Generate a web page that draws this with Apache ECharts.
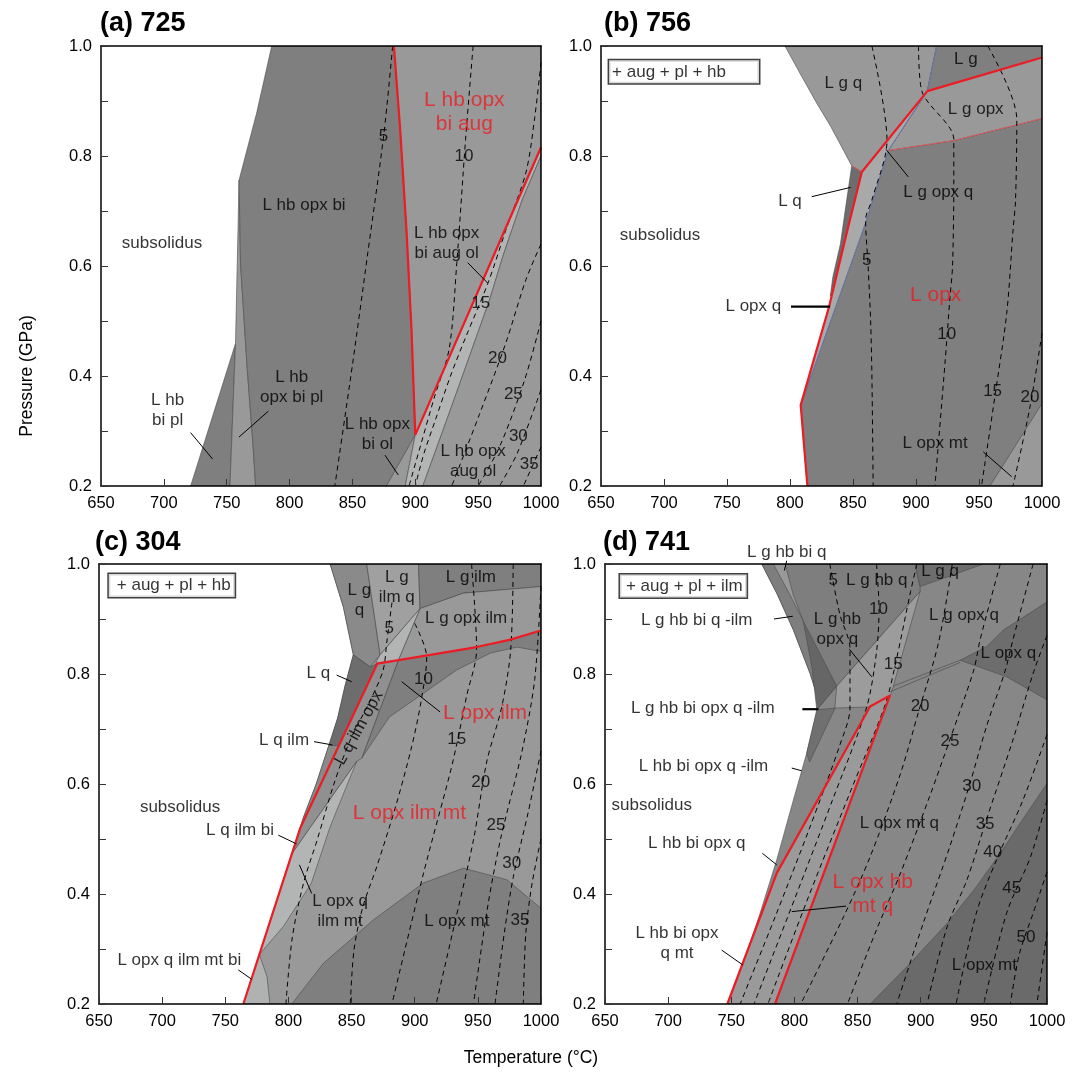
<!DOCTYPE html>
<html>
<head>
<meta charset="UTF-8">
<title>phase diagrams 725 756 304 741</title>
<style>
  html, body { margin: 0; padding: 0; background: #fff; }
  #main { width: 1075px; height: 1074px; }
</style>
</head>
<body>
<div id="main"></div>
<script src="https://cdn.jsdelivr.net/npm/echarts@6/dist/echarts.min.js"></script>
<script>
var FONT = 'Liberation Sans, Arial, Helvetica, sans-serif';
var RED = '#ec1c24';

// ---------- (a) 725 : fields [T (°C), P (GPa)] ----------
var a_hbBiPl = [[757,0.459],[721.3,0.2],[752.6,0.2]];
var a_hbOpxBiPl = [[759.8,0.756],[757,0.459],[752.6,0.2],[773,0.2],[771,0.272],[766,0.423],[761,0.605]];
var a_hbOpxBi = [[785.8,1.0],[883,1.0],[888,0.847],[893,0.665],[897,0.484],[900,0.293],[877,0.2],[773,0.2],[771,0.272],[766,0.423],[761,0.605],[759.8,0.756],[773.8,0.878]];
var a_hbOpxBiAug = [[883,1.0],[1000,1.0],[1000,0.816],[900,0.293],[897,0.484],[893,0.665],[888,0.847]];
var a_hbOpxBiOl = [[900,0.293],[877,0.2],[892,0.2]];
var a_augOl = [[900,0.293],[1000,0.816],[1000,0.80],[985,0.72],[970,0.62],[959,0.538],[943,0.435],[925,0.32],[906,0.2],[892,0.2]];
var a_hbOpxAugOl = [[906,0.2],[925,0.32],[943,0.435],[959,0.538],[970,0.62],[985,0.72],[1000,0.80],[1000,0.2]];
var a_red = [[883,1.0],[888,0.847],[893,0.665],[897,0.484],[900,0.293],[1000,0.816]];
var a_c5 = [[882,1.0],[875,0.84],[862,0.62],[850,0.42],[836,0.2]];
var a_c10 = [[946,1.0],[940,0.83],[933,0.605],[927,0.45],[915,0.36],[905,0.28],[895,0.2]];
var a_c15 = [[1000,0.97],[995,0.87],[988,0.77],[972,0.665],[958,0.57],[940,0.47],[928,0.4],[916,0.32],[907,0.26],[900,0.2]];
var a_c20 = [[1000,0.64],[988,0.575],[972,0.46],[951,0.33],[929,0.2]];
var a_c25 = [[1000,0.50],[987,0.393],[967,0.271],[950,0.2]];
var a_c30 = [[1000,0.375],[981,0.259],[967,0.2]];
var a_c35 = [[1000,0.271],[986,0.2]];
var a_labels = [['subsolidus',698.5,0.642],['L hb opx bi',811.5,0.71],['L hb opx\nbi aug ol',925,0.642],
  ['L hb\nbi pl',703,0.337],['L hb\nopx bi pl',801.7,0.38],['L hb opx\nbi ol',869.8,0.294],['L hb opx\naug ol',946,0.244]];
var a_redLabels = [['L hb opx\nbi aug',939,0.88]];
var a_numbers = [['5',874.6,0.836],['10',938.8,0.799],['15',952,0.532],['20',965.3,0.432],['25',978,0.367],['30',982,0.29],['35',990.7,0.24]];
var a_ptrs = [[[721.3,0.297],[738.8,0.249]],[[783.1,0.336],[759.8,0.289]],[[875.9,0.256],[886.5,0.22]],[[941.7,0.606],[957.6,0.569]]];

// ---------- (b) 756 ----------
var b_opx = [[857,0.771],[878,0.81],[930,0.828],[1000,0.868],[1000,0.2],[813.8,0.2],[808.5,0.347],[831,0.526]];
var b_lgq = [[796,1.0],[916.4,1.0],[909,0.918],[857,0.771],[849,0.782],[842.3,0.811],[832,0.855],[821.2,0.896],[808,0.95]];
var b_lg = [[916.4,1.0],[1000,1.0],[1000,0.979],[909,0.918]];
var b_lgopx = [[909,0.918],[1000,0.979],[1000,0.868],[930,0.828],[878,0.81]];
var b_strip = [[909,0.918],[878,0.81],[860,0.678],[808.5,0.347],[831,0.526],[845,0.66],[857,0.771]];
var b_lq = [[849,0.782],[857,0.771],[845,0.66],[832,0.545],[834,0.58],[840,0.64],[845,0.72]];
var b_mt = [[958.7,0.2],[1000,0.35],[1000,0.2]];
var b_red = [[1000,0.979],[909,0.918],[857,0.771],[845,0.66],[831,0.526],[808.5,0.347],[813.8,0.2]];
var b_thinRed1 = [[849,0.782],[857,0.771]];
var b_thinRed2 = [[878,0.81],[930,0.828],[1000,0.868]];
var b_blue = [[916.4,1.0],[909,0.918],[878,0.81],[860,0.678],[808.5,0.347]];
var b_c5 = [[865,1.0],[877,0.828],[865,0.72],[860,0.684],[862,0.6],[864,0.5],[865,0.4],[866,0.2]];
var b_c10 = [[902,1.0],[904.5,0.919],[930,0.83],[930,0.75],[929,0.6],[927,0.544],[923,0.423],[915,0.2]];
var b_c15 = [[957,1.0],[980,0.867],[979,0.72],[977,0.665],[972,0.514],[963,0.369],[952,0.2]];
var b_c20 = [[1000,0.478],[990.5,0.344],[977,0.2]];
var b_labels = [['subsolidus',696.8,0.656],['L g q',842.3,0.933],['L g',939.5,0.975],['L g opx',947.4,0.885],
  ['L g opx q',917.7,0.734],['L q',800,0.718],['L opx q',770.9,0.526],['L opx mt',915.1,0.278]];
var b_redLabels = [['L opx',915.6,0.546]];
var b_numbers = [['5',860.9,0.611],['10',924.4,0.476],['15',960.8,0.372],['20',990.5,0.362]];
var b_ptrs = [[[817.2,0.726],[848.2,0.743]],[[893.9,0.762],[876.2,0.812]],[[953.4,0.262],[975.9,0.217]]];
var b_thickPtrs = [[[800.8,0.526],[831.8,0.526]]];

// ---------- (c) 304 ----------
var c_base = [[833,1.0],[1000,1.0],[1000,0.2],[764.3,0.2],[806.5,0.5],[812,0.54],[822,0.6],[832,0.67],[839,0.72],[845,0.78],[851.4,0.835],[843.5,0.922]];
var c_lgq = [[833,1.0],[862,1.0],[872.6,0.835],[864.6,0.813],[851.4,0.835],[843.5,0.922]];
var c_lgilmq = [[862,1.0],[903,1.0],[904.2,0.919],[872.6,0.835]];
var c_lgilm = [[903,1.0],[1000,1.0],[1000,0.959],[938.5,0.947],[904.2,0.919]];
var c_lgopxilm = [[904.2,0.919],[938.5,0.947],[1000,0.959],[1000,0.879],[975,0.862],[949,0.849],[910,0.834],[887,0.825]];
var c_opxilm = [[887,0.825],[910,0.834],[949,0.849],[975,0.862],[1000,0.879],[1000,0.841],[981,0.849],[960,0.838],[933,0.807],[907,0.765],[880,0.722],[858,0.647]];
var c_tri = [[904.2,0.919],[872.6,0.835],[869,0.82],[887,0.825]];
var c_lq = [[851.4,0.835],[864.6,0.813],[870.4,0.819],[840,0.67],[832,0.67],[839,0.72],[845,0.78]];
var c_lqilm = [[832,0.67],[840,0.67],[806.5,0.5],[812,0.54],[822,0.6]];
var c_strip = [[870.4,0.819],[887,0.825],[858,0.647],[854,0.641],[803,0.474],[809.2,0.519]];
var c_light = [[854,0.641],[833,0.522],[818,0.419],[796,0.341],[777,0.29],[803,0.474]];
var c_bi = [[777,0.29],[783,0.25],[785.4,0.2],[764.3,0.2]];
var c_dome = [[802.6,0.2],[827.7,0.274],[867.3,0.353],[906.9,0.42],[938.6,0.447],[972.9,0.426],[1000,0.374],[1000,0.2]];
var c_red = [[1000,0.879],[975,0.862],[949,0.849],[910,0.834],[870.4,0.819],[809.2,0.519],[764.3,0.2]];
var c_c5 = [[882,0.93],[878,0.86],[875,0.807],[865,0.753],[849,0.68],[836,0.6],[823,0.5],[812,0.42],[803,0.32],[798,0.2]];
var c_c10 = [[900,0.892],[909.5,0.831],[905,0.75],[897.6,0.668],[885,0.56],[870,0.45],[859,0.377],[852,0.3],[849,0.2]];
var c_c15 = [[945,1.0],[949,0.844],[941,0.759],[934,0.68],[928,0.62],[907,0.438],[882,0.2]];
var c_c20 = [[978,1.0],[976,0.844],[969,0.741],[957,0.64],[946.5,0.498],[930,0.33],[917,0.2]];
var c_c25 = [[1000,0.96],[995,0.79],[985,0.66],[968,0.5],[958,0.38],[946.5,0.2]];
var c_c30 = [[1000,0.66],[990,0.55],[978,0.43],[971,0.33],[963.6,0.2]];
var c_c35 = [[1000,0.5],[993,0.42],[988,0.33],[986,0.2]];
var c_labels = [['subsolidus',714.2,0.558],['L g\nq',856.2,0.934],['L g\nilm q',885.8,0.958],['L g ilm',944.4,0.976],
  ['L g opx ilm',940.7,0.901],['L q',823.7,0.801],['L q ilm',796.5,0.68],['L q ilm bi',761.7,0.515],
  ['L opx q\nilm mt',840.9,0.369],['L opx mt',933.3,0.351],['L opx q ilm mt bi',713.6,0.279],['L q ilm opx',856,0.702,61]];
var c_redLabels = [['L opx ilm',955.7,0.729],['L opx ilm mt',895.8,0.547]];
var c_numbers = [['5',879.9,0.883],['10',906.9,0.79],['15',933.3,0.682],['20',952.3,0.603],['25',964.4,0.525],['30',976.8,0.455],['35',983.4,0.353]];
var c_ptrs = [[[838.2,0.798],[850.1,0.786]],[[820.3,0.677],[834.8,0.671]],[[792,0.507],[806.5,0.491]],
  [[808.7,0.453],[818.4,0.401]],[[760.3,0.262],[770.9,0.245]],[[889.7,0.786],[920.1,0.731]]];

// ---------- (d) 741 ----------
var d_base = [[774.1,1.0],[1000,1.0],[1000,0.2],[749,0.2],[759.6,0.274],[772.8,0.365],[786,0.462],[799.2,0.571],[809.7,0.656],[817.6,0.729],[819.8,0.747],[812.4,0.801],[799.2,0.88],[786,0.947]];
var d_top = [[774.1,1.0],[895.5,1.0],[899.5,0.959],[899.5,0.95],[833.5,0.778],[817.7,0.735],[819.8,0.747],[812.4,0.801],[799.2,0.88],[786,0.947]];
var d_lgq = [[895.5,1.0],[949.6,1.0],[899.5,0.959]];
var d_biq = [[783.3,1.0],[792.6,1.0],[799.1,0.944],[807,0.896],[796.5,0.944]];
var d_wedge = [[807,0.896],[833.5,0.778],[817.7,0.735],[814,0.811]];
var d_strip15 = [[899.5,0.95],[833.5,0.778],[832,0.738],[858.5,0.74],[875.7,0.759],[878.3,0.778]];
var d_ilmWedge = [[817.7,0.735],[832.2,0.738],[812,0.64],[809.7,0.656]];
var d_redPoly = [[746.9,0.2],[786,0.438],[859.9,0.741],[875.7,0.761],[784.6,0.2]];
var d_lopxq = [[931.2,0.825],[952.3,0.85],[965.5,0.88],[1000,0.931],[1000,0.753],[968.1,0.795]];
var d_lopxmt = [[860,0.2],[890,0.27],[921,0.347],[943,0.41],[963,0.474],[982,0.54],[1000,0.601],[1000,0.2]];
var d_red = [[746.9,0.2],[786,0.438],[859.9,0.741],[875.7,0.761],[784.6,0.2]];
var d_thin1 = [[878.3,0.778],[931.2,0.825]];
var d_thin2 = [[876,0.768],[931.2,0.821]];
var d_c5 = [[828,1.0],[836,0.908],[844,0.847],[844,0.738],[836,0.671],[812,0.52],[785,0.36],[757,0.2]];
var d_c10 = [[865,1.0],[867,0.918],[865,0.84],[857,0.738],[830,0.57],[800,0.39],[768,0.2]];
var d_c15 = [[897,1.0],[892,0.95],[881,0.829],[872,0.745],[845,0.59],[812,0.4],[779,0.2]];
var d_c20 = [[925,1.0],[914,0.856],[898,0.729],[884,0.619],[860,0.468],[839,0.359],[805,0.2]];
var d_c25 = [[963,1.0],[947,0.862],[942,0.807],[923,0.68],[907,0.577],[884,0.438],[865,0.335],[842,0.2]];
var d_c30 = [[989,1.0],[973,0.862],[967,0.807],[952,0.704],[939,0.601],[923,0.486],[902,0.347],[881,0.2]];
var d_c35 = [[1000,0.87],[989,0.801],[973,0.68],[952,0.535],[936.5,0.425],[921,0.341],[905,0.2]];
var d_c40 = [[1000,0.69],[981,0.571],[960,0.462],[944,0.365],[928,0.2]];
var d_c45 = [[1000,0.57],[987,0.468],[968,0.365],[950,0.2]];
var d_c50 = [[1000,0.44],[989,0.365],[978,0.29],[971,0.2]];
var d_c55 = [[1000,0.33],[992,0.2]];
var d_labels = [['L g hb bi q',793.9,1.022],['L g hb q',865.2,0.97],['L g q',915.3,0.986],['L g hb\nopx q',834,0.881],
  ['L g opx q',934.3,0.907],['L opx q',969.4,0.838],['L g hb bi q -ilm',722.6,0.898],['L g hb bi opx q -ilm',727.4,0.738],
  ['L hb bi opx q -ilm',727.9,0.633],['subsolidus',687,0.561],['L hb bi opx q',722.6,0.492],['L hb bi opx\nq mt',707,0.31],
  ['L opx mt q',883.1,0.529],['L opx mt',950.4,0.271]];
var d_redLabels = [['L opx hb\nmt q',862,0.399]];
var d_numbers = [['5',830.8,0.971],['10',866.5,0.918],['15',878.3,0.818],['20',899.5,0.742],['25',923.2,0.678],
  ['30',940.4,0.595],['35',951,0.527],['40',957,0.476],['45',972.1,0.41],['50',983.4,0.322]];
var d_ptrs = [[[793.9,1.006],[792,0.988]],[[783.8,0.9],[798.7,0.905]],[[797.9,0.629],[805.8,0.624]],[[774.6,0.474],[786,0.453]],
  [[742.4,0.298],[759.1,0.271]],[[840.9,0.378],[797.9,0.368]],[[843.5,0.845],[861.2,0.795]]];
var d_thickPtrs = [[[806.3,0.736],[819,0.736]]];

// assemblage boxes [grid, text, T, P, padding]
var boxes = [
  [1, '+ aug + pl + hb', 715.9, 0.953, [3,33,3,3]],
  [2, '+ aug + pl + hb', 707.6, 0.961, [3,4,3,8]],
  [3, '+ aug + pl + ilm', 712, 0.96, [3,4,3,6]]
];

var DARK = '#7f7f7f', MED = '#999999', LIGHT = '#b3b5b5', DEEP = '#6d6d6d', MID = '#8a8a8a';

var panels = [
  { polys: [[a_hbBiPl,DARK],[a_hbOpxBiPl,MED],[a_hbOpxBi,DARK],[a_hbOpxBiAug,MED],[a_hbOpxBiOl,MED],[a_augOl,LIGHT],[a_hbOpxAugOl,MED]],
    red: [a_red], thinRed: [], blue: [], thin: [],
    dashed: [a_c5,a_c10,a_c15,a_c20,a_c25,a_c30,a_c35],
    ptrs: a_ptrs, thick: [], labels: a_labels, redLabels: a_redLabels, numbers: a_numbers },
  { polys: [[b_opx,DARK],[b_lgq,MED],[b_lg,DARK],[b_lgopx,MED],[b_strip,'#a9a9a9'],[b_lq,DEEP],[b_mt,MED]],
    red: [b_red], thinRed: [b_thinRed1,b_thinRed2], blue: [b_blue], thin: [],
    dashed: [b_c5,b_c10,b_c15,b_c20],
    ptrs: b_ptrs, thick: b_thickPtrs, labels: b_labels, redLabels: b_redLabels, numbers: b_numbers },
  { polys: [[c_base,MED],[c_lgq,MID],[c_lgilmq,'#a0a0a0'],[c_lgilm,DARK],[c_lgopxilm,MED],[c_opxilm,DARK],[c_tri,LIGHT],
            [c_lq,DEEP],[c_lqilm,MID],[c_strip,'#909090'],[c_light,LIGHT],[c_bi,'#b0b2b2'],[c_dome,DARK]],
    red: [c_red], thinRed: [], blue: [], thin: [],
    dashed: [c_c5,c_c10,c_c15,c_c20,c_c25,c_c30,c_c35],
    ptrs: c_ptrs, thick: [], labels: c_labels, redLabels: c_redLabels, numbers: c_numbers },
  { polys: [[d_base,'#878787'],[d_top,'#7e7e7e'],[d_lgq,DEEP],[d_biq,MED],[d_wedge,'#666666'],[d_strip15,'#9c9c9c'],
            [d_ilmWedge,'#707070'],[d_redPoly,'#9a9a9a'],[d_lopxq,DEEP],[d_lopxmt,'#6a6a6a']],
    red: [d_red], thinRed: [], blue: [], thin: [d_thin1,d_thin2],
    dashed: [d_c5,d_c10,d_c15,d_c20,d_c25,d_c30,d_c35,d_c40,d_c45,d_c50,d_c55],
    ptrs: d_ptrs, thick: d_thickPtrs, labels: d_labels, redLabels: d_redLabels, numbers: d_numbers }
];

var grids = [
  {left: 101, top: 46, width: 440, height: 440},
  {left: 601, top: 46, width: 441, height: 440},
  {left: 99, top: 564, width: 442, height: 440},
  {left: 605, top: 564, width: 442, height: 440}
];

function polySeries(gi, polys) {
  return {
    type: 'custom', xAxisIndex: gi, yAxisIndex: gi, clip: true, z: 1, silent: true, animation: false,
    data: polys.map(function (p) { return p[0][0]; }),
    renderItem: function (params, api) {
      var p = polys[params.dataIndex];
      return {
        type: 'polygon',
        shape: { points: p[0].map(function (d) { return api.coord(d); }) },
        style: { fill: p[1], stroke: '#4a4a4a', lineWidth: 0.6 }
      };
    }
  };
}

function lineSeries(gi, pts, style, smooth, clip, z) {
  return {
    type: 'line', xAxisIndex: gi, yAxisIndex: gi, data: pts, symbol: 'none', showSymbol: false,
    smooth: smooth || false, lineStyle: style, silent: true, animation: false,
    clip: clip !== false, z: z || 3
  };
}

function labelSeries(gi, items, style) {
  return {
    type: 'scatter', xAxisIndex: gi, yAxisIndex: gi, symbol: 'circle', symbolSize: 0.1,
    itemStyle: { color: 'transparent' }, silent: true, animation: false, clip: false, z: 6,
    data: items.map(function (it) {
      var d = { name: it[0], value: [it[1], it[2]] };
      if (it[3] != null) d.label = { rotate: it[3] };
      return d;
    }),
    label: Object.assign({ show: true, position: 'inside', formatter: '{b}' }, style)
  };
}

var series = [];
panels.forEach(function (p, gi) {
  series.push(polySeries(gi, p.polys));
  p.blue.forEach(function (l) { series.push(lineSeries(gi, l, {color: '#6b7bb8', width: 0.9})); });
  p.thinRed.forEach(function (l) { series.push(lineSeries(gi, l, {color: '#ec5a5e', width: 0.9})); });
  p.thin.forEach(function (l) { series.push(lineSeries(gi, l, {color: '#444', width: 0.6})); });
  p.dashed.forEach(function (l) { series.push(lineSeries(gi, l, {color: '#000', width: 1, type: [5, 4]}, 0.3)); });
  p.red.forEach(function (l) { series.push(lineSeries(gi, l, {color: RED, width: 2.2}, false, true, 4)); });
  p.ptrs.forEach(function (l) { series.push(lineSeries(gi, l, {color: '#000', width: 1}, false, false, 5)); });
  p.thick.forEach(function (l) { series.push(lineSeries(gi, l, {color: '#000', width: 2.2}, false, false, 5)); });
  series.push(labelSeries(gi, p.labels, {color: '#000', fontSize: 17, fontFamily: FONT, lineHeight: 20}));
  series.push(labelSeries(gi, p.redLabels, {color: RED, fontSize: 21, fontFamily: FONT, lineHeight: 24}));
  series.push(labelSeries(gi, p.numbers, {color: '#000', fontSize: 17, fontFamily: FONT}));
});
boxes.forEach(function (b) {
  series.push({
    type: 'scatter', xAxisIndex: b[0], yAxisIndex: b[0], symbol: 'circle', symbolSize: 0.1,
    itemStyle: { color: 'transparent' }, silent: true, animation: false, clip: false, z: 7,
    data: [{ name: b[1], value: [b[2], b[3]] }],
    label: { show: true, position: 'inside', formatter: '{b}', color: '#000', fontSize: 17, fontFamily: FONT,
             backgroundColor: '#fff', borderColor: '#111', borderWidth: 1.5, padding: b[4], lineHeight: 17 }
  });
});

var xAxes = [], yAxes = [];
grids.forEach(function (g, gi) {
  xAxes.push({
    type: 'value', gridIndex: gi, min: 650, max: 1000, interval: 50, z: 10,
    axisLine: { show: true, onZero: false, lineStyle: { color: '#000', width: 1.5 } },
    axisTick: { show: true, inside: true, length: 7, lineStyle: { color: '#333', width: 1 } },
    axisLabel: { color: '#000', fontSize: 16.5, fontFamily: FONT, margin: 9,
                 formatter: function (v) { return String(v); } },
    splitLine: { show: false }
  });
  yAxes.push({
    type: 'value', gridIndex: gi, min: 0.2, max: 1.0, interval: 0.2, z: 10,
    axisLine: { show: true, onZero: false, lineStyle: { color: '#000', width: 1.5 } },
    axisTick: { show: true, inside: true, length: 7, lineStyle: { color: '#333', width: 1 } },
    minorTick: { show: true, splitNumber: 2, length: 7, lineStyle: { color: '#333', width: 1 } },
    axisLabel: { color: '#000', fontSize: 16.5, fontFamily: FONT, margin: 9,
                 formatter: function (v) { return v.toFixed(1); } },
    splitLine: { show: false }, minorSplitLine: { show: false }
  });
});
grids.forEach(function (g, gi) {
  xAxes.push({
    type: 'value', gridIndex: gi, position: 'top', min: 650, max: 1000, z: 10,
    axisLine: { show: true, onZero: false, lineStyle: { color: '#000', width: 1.5 } },
    axisTick: { show: false }, axisLabel: { show: false }, splitLine: { show: false }
  });
  yAxes.push({
    type: 'value', gridIndex: gi, position: 'right', min: 0.2, max: 1.0, z: 10,
    axisLine: { show: true, onZero: false, lineStyle: { color: '#000', width: 1.5 } },
    axisTick: { show: false }, axisLabel: { show: false }, splitLine: { show: false }
  });
});

var titleStyle = { fontSize: 27, fontWeight: 'bold', fontFamily: FONT, color: '#000' };
var chart = echarts.init(document.getElementById('main'), null, { renderer: 'canvas' });
var option = {
  backgroundColor: '#fff',
  animation: false,
  title: [
    { text: '(a) 725', left: 100, top: 10, padding: 0, textStyle: titleStyle },
    { text: '(b) 756', left: 604, top: 10, padding: 0, textStyle: titleStyle },
    { text: '(c) 304', left: 95, top: 529, padding: 0, textStyle: titleStyle },
    { text: '(d) 741', left: 603, top: 529, padding: 0, textStyle: titleStyle }
  ],
  grid: grids.map(function (g) {
    return Object.assign({ containLabel: false, outerBoundsMode: 'none', show: false }, g);
  }),
  xAxis: xAxes,
  yAxis: yAxes,
  graphic: [
    { type: 'text', x: 27, y: 376, rotation: Math.PI / 2,
      style: { text: 'Pressure (GPa)', fontSize: 17.5, fontFamily: FONT, fill: '#000', align: 'center', verticalAlign: 'middle' } },
    { type: 'text', x: 531, y: 1058,
      style: { text: 'Temperature (°C)', fontSize: 17.5, fontFamily: FONT, fill: '#000', align: 'center', verticalAlign: 'middle' } }
  ],
  series: series
};
chart.setOption(option);
</script>
</body>
</html>
